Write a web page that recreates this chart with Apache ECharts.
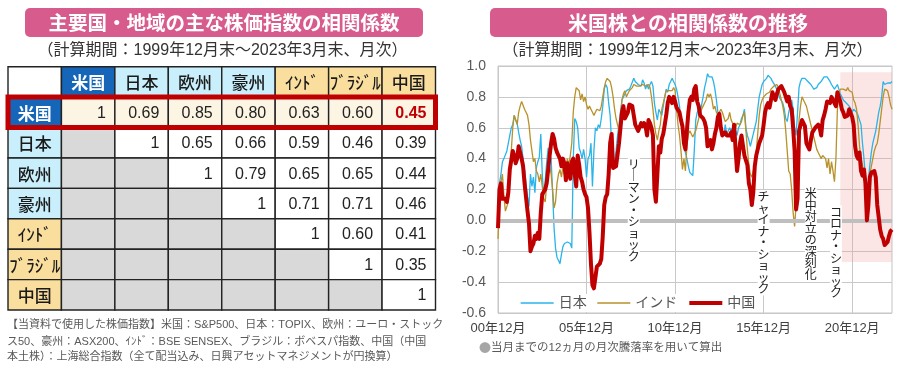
<!DOCTYPE html>
<html><head><meta charset="utf-8">
<script src="https://cdn.jsdelivr.net/npm/echarts@6/dist/echarts.min.js"></script>
<style>html,body{margin:0;padding:0;background:#fff}#c{width:900px;height:370px}</style>
</head><body><div id="c"></div>
<script>
// ---------- Table data ----------
const regions = ['米国','日本','欧州','豪州','ｲﾝﾄﾞ','ﾌﾞﾗｼﾞﾙ','中国'];
const regionGroup = ['us','dev','dev','dev','em','em','em'];
const corrMatrix = [
  [1, 0.69, 0.85, 0.80, 0.63, 0.60, 0.45],
  [null, 1, 0.65, 0.66, 0.59, 0.46, 0.39],
  [null, null, 1, 0.79, 0.65, 0.65, 0.44],
  [null, null, null, 1, 0.71, 0.71, 0.46],
  [null, null, null, null, 1, 0.60, 0.41],
  [null, null, null, null, null, 1, 0.35],
  [null, null, null, null, null, null, 1]
];
const highlightRow = 1;   // 米国 row
const highlightCell = [1, 7]; // 米国 × 中国

// ---------- Line chart data (monthly, 2000-12 .. 2023-03) ----------
const startYear = 2000, startMonth = 12, monthCount = 268;
const japan = [
  0.10,0.24,0.30,0.38,0.40,0.39,0.45,0.50,0.55,0.60,0.62,0.68,
  0.65,0.63,0.57,0.52,0.48,0.40,0.33,0.24,0.15,0.09,0.30,0.22,
  0.28,0.18,0.34,0.38,0.41,0.56,0.30,0.16,0.26,0.38,0.47,0.43,
  0.40,0.18,-0.05,-0.18,-0.24,-0.26,-0.28,-0.22,-0.17,-0.15,-0.14,-0.14,
  -0.13,-0.15,-0.18,0.40,0.66,0.64,0.60,0.47,0.44,0.40,0.46,0.40,
  0.28,0.40,0.42,0.50,0.22,0.45,0.60,0.58,0.62,0.60,0.66,0.74,
  0.85,0.88,0.86,0.76,0.68,0.50,0.36,0.38,0.45,0.55,0.62,0.70,
  0.78,0.80,0.82,0.84,0.85,0.85,0.87,0.86,0.92,0.90,0.89,0.88,
  0.87,0.87,0.91,0.89,0.85,0.88,0.85,0.88,0.90,0.87,0.76,0.70,
  0.65,0.72,0.70,0.68,0.74,0.80,0.85,0.83,0.88,0.90,0.92,0.90,
  0.88,0.85,0.80,0.74,0.65,0.55,0.48,0.44,0.40,0.35,0.31,0.30,
  0.29,0.45,0.65,0.70,0.72,0.68,0.75,0.80,0.86,0.90,0.95,0.93,
  0.92,0.93,0.90,0.85,0.78,0.70,0.65,0.60,0.58,0.55,0.62,0.56,
  0.55,0.60,0.58,0.60,0.62,0.58,0.55,0.60,0.62,0.66,0.68,0.72,
  0.60,0.55,0.52,0.48,0.52,0.56,0.60,0.64,0.72,0.80,0.84,0.88,
  0.90,0.91,0.92,0.94,0.93,0.92,0.90,0.89,0.87,0.86,0.82,0.79,
  0.78,0.76,0.72,0.66,0.64,0.70,0.74,0.78,0.72,0.60,0.55,0.70,
  0.86,0.90,0.92,0.93,0.92,0.91,0.90,0.89,0.88,0.87,0.85,0.85,
  0.86,0.88,0.89,0.90,0.91,0.93,0.94,0.93,0.93,0.90,0.88,0.87,
  0.85,0.86,0.88,0.85,0.82,0.80,0.78,0.77,0.76,0.75,0.74,0.72,
  0.70,0.72,0.71,0.70,0.68,0.68,0.62,0.50,0.40,0.28,0.18,0.26,
  0.36,0.44,0.50,0.54,0.58,0.64,0.70,0.74,0.80,0.90,0.88,0.88,
  0.89,0.90,0.89,0.90
];
const india = [
  -0.12,0.10,0.25,0.30,0.16,0.06,0.05,0.12,0.30,0.45,0.60,0.68,
  0.65,0.62,0.70,0.74,0.77,0.76,0.72,0.70,0.68,0.62,0.52,0.45,
  0.38,0.40,0.32,0.30,0.25,0.30,0.22,0.14,0.12,0.24,0.30,0.35,
  0.30,0.20,0.08,0.12,0.24,0.30,0.33,0.28,0.35,0.30,0.35,0.40,
  0.36,0.42,0.50,0.70,0.80,0.86,0.86,0.84,0.78,0.82,0.77,0.80,
  0.75,0.72,0.74,0.72,0.70,0.68,0.70,0.72,0.73,0.71,0.74,0.80,
  0.86,0.90,0.92,0.93,0.90,0.86,0.80,0.72,0.66,0.62,0.58,0.65,
  0.78,0.82,0.84,0.80,0.82,0.84,0.85,0.86,0.88,0.88,0.87,0.88,
  0.87,0.88,0.88,0.87,0.87,0.88,0.88,0.86,0.80,0.72,0.62,0.56,
  0.52,0.58,0.62,0.72,0.76,0.80,0.84,0.85,0.84,0.85,0.84,0.86,
  0.84,0.72,0.62,0.55,0.45,0.33,0.40,0.32,0.48,0.56,0.58,0.56,
  0.54,0.55,0.58,0.62,0.66,0.70,0.72,0.74,0.76,0.78,0.82,0.80,
  0.82,0.78,0.72,0.74,0.70,0.68,0.70,0.72,0.70,0.67,0.64,0.63,
  0.66,0.70,0.65,0.63,0.62,0.60,0.63,0.62,0.62,0.64,0.68,0.70,
  0.58,0.46,0.36,0.30,0.28,0.32,0.38,0.44,0.56,0.68,0.75,0.78,
  0.80,0.81,0.82,0.82,0.83,0.85,0.85,0.87,0.88,0.88,0.86,0.82,
  0.78,0.74,0.68,0.58,0.45,0.32,0.30,0.20,0.05,-0.04,0.10,0.40,
  0.65,0.74,0.80,0.78,0.76,0.74,0.70,0.66,0.62,0.58,0.54,0.50,
  0.46,0.44,0.42,0.40,0.42,0.41,0.40,0.34,0.40,0.30,0.38,0.32,
  0.25,0.40,0.72,0.82,0.85,0.86,0.85,0.84,0.84,0.86,0.84,0.83,
  0.83,0.78,0.76,0.72,0.62,0.48,0.40,0.36,0.30,0.23,0.18,0.22,
  0.30,0.35,0.40,0.45,0.48,0.50,0.56,0.64,0.72,0.80,0.85,0.86,
  0.84,0.80,0.75,0.72
];
const china = [
  -0.05,0.20,0.24,0.14,0.13,0.14,0.12,0.18,0.33,0.33,0.45,0.42,
  0.37,0.40,0.48,0.44,0.40,0.35,0.24,0.15,0.06,-0.02,-0.20,-0.17,
  -0.15,-0.10,-0.12,-0.08,-0.12,0.05,0.17,0.18,0.20,0.24,0.33,0.42,
  0.50,0.56,0.53,0.47,0.44,0.42,0.40,0.35,0.40,0.37,0.26,0.37,
  0.31,0.27,0.38,0.40,0.30,0.22,0.42,0.36,0.28,0.25,0.20,0.17,
  0.15,0.08,-0.08,-0.28,-0.42,-0.44,-0.43,-0.30,-0.31,-0.28,-0.25,-0.10,
  0.10,0.15,0.17,0.30,0.50,0.56,0.34,0.33,0.35,0.36,0.50,0.60,
  0.70,0.74,0.66,0.67,0.70,0.75,0.76,0.74,0.68,0.62,0.63,0.58,
  0.57,0.63,0.61,0.63,0.61,0.55,0.65,0.63,0.60,0.55,0.20,0.12,
  0.30,0.48,0.44,0.53,0.56,0.57,0.68,0.76,0.80,0.80,0.76,0.80,
  0.77,0.73,0.72,0.70,0.65,0.61,0.50,0.46,0.58,0.70,0.78,0.80,
  0.78,0.85,0.87,0.77,0.74,0.68,0.69,0.66,0.64,0.60,0.48,0.50,
  0.52,0.46,0.50,0.56,0.60,0.67,0.69,0.60,0.55,0.55,0.57,0.55,
  0.55,0.55,0.57,0.52,0.62,0.46,0.32,0.40,0.50,0.55,0.54,0.42,
  0.42,0.36,0.24,0.20,0.10,0.18,0.35,0.42,0.46,0.50,0.50,0.55,
  0.62,0.70,0.74,0.76,0.73,0.78,0.83,0.80,0.78,0.82,0.85,0.86,
  0.87,0.85,0.83,0.83,0.77,0.80,0.74,0.72,0.60,0.45,0.07,0.14,
  0.58,0.57,0.65,0.63,0.61,0.50,0.48,0.46,0.52,0.57,0.57,0.60,
  0.61,0.62,0.60,0.55,0.65,0.68,0.72,0.77,0.78,0.76,0.80,0.78,
  0.76,0.74,0.83,0.80,0.77,0.72,0.70,0.67,0.66,0.68,0.72,0.72,
  0.67,0.62,0.48,0.42,0.40,0.44,0.32,0.29,0.33,0.24,0.00,0.10,
  0.28,0.31,0.30,0.32,0.28,0.10,0.02,-0.06,-0.10,-0.12,-0.16,-0.17,
  -0.14,-0.10,-0.07,-0.06
];
const seriesNames = ['日本','インド','中国'];
const yMin = -0.6, yMax = 1.0, yStep = 0.2;
const labelEvery = 60; // one x label per 5 years (each December)
// event annotations: [text, month index, value at top of text]
const events = [
  ['リーマン・ショック', 92, 0.41],
  ['チャイナ・ショック', 180, 0.20],
  ['米中対立の深刻化', 212, 0.22],
  ['コロナ・ショック', 229, 0.10]
];
const covidRange = [232, 267, 0.96, -0.27];

// month category labels
const months = [];
for (let i = 0; i < monthCount; i++) {
  const t = startYear * 12 + (startMonth - 1) + i;
  const y = Math.floor(t / 12), m = t % 12 + 1;
  months.push(String(y % 100).padStart(2, '0') + '年' + m + '月');
}

const FONT = "'Liberation Sans','Noto Sans CJK JP',sans-serif";
const JP = "'Noto Sans CJK JP',sans-serif";
const groupFill = { us: '#1565B8', dev: '#C8EFFB', em: '#F9DE9E' };
const lineColors = { '日本': '#29B4EA', 'インド': '#B8912A', '中国': '#C00000' };
const lineWidths = { '日本': 1.3, 'インド': 1.3, '中国': 4 };

const cellData = [];
for (let r = 0; r < 8; r++) for (let c = 0; c < 8; c++) cellData.push([c, r]);
const tableCols = [''].concat(regions);

function renderCell(params, api) {
  const c = api.value(0), r = api.value(1);
  const ctr = api.coord([c, r]);
  const sz = api.size([1, 1]);
  const x = ctr[0] - sz[0] / 2, y = ctr[1] - sz[1] / 2;
  let fill = '#fff', text = '', color = '#222', weight = 'normal', header = false, fam = FONT, fs = 16;
  if (r === 0 && c === 0) { fill = '#fff'; }
  else if (r === 0 || c === 0) {
    const idx = (r === 0 ? c : r) - 1;
    const g = regionGroup[idx];
    fill = groupFill[g]; text = regions[idx]; header = true; fam = JP; fs = 17;
    if (g === 'us') { color = '#fff'; weight = 'bold'; } else { color = '#1a1a1a'; weight = 500; }
  } else {
    const v = corrMatrix[r - 1][c - 1];
    if (v === null) fill = '#D9D9D9';
    else {
      fill = (r === highlightRow) ? '#FDF5E4' : '#fff';
      text = v === 1 ? '1' : v.toFixed(2);
      if (r === highlightCell[0] && c === highlightCell[1]) { color = '#C00000'; weight = 'bold'; }
    }
  }
  return {
    type: 'group',
    children: [
      { type: 'rect', shape: { x: x, y: y, width: sz[0], height: sz[1] }, style: { fill: fill, stroke: '#222', lineWidth: 1.4 } },
      { type: 'text', style: { text: text, x: header ? ctr[0] : x + sz[0] - 9, y: ctr[1] + 1, align: header ? 'center' : 'right', verticalAlign: 'middle', fill: color, fontSize: fs, fontWeight: weight, fontFamily: fam } }
    ]
  };
}
function renderHighlight(params, api) {
  const r = api.value(0);
  const sz = api.size([1, 1]);
  const a = api.coord([0, r]), b = api.coord([7, r]);
  return { type: 'rect', shape: { x: a[0] - sz[0] / 2, y: a[1] - sz[1] / 2, width: b[0] - a[0] + sz[0], height: sz[1] },
    style: { fill: 'none', stroke: '#C00000', lineWidth: 5 } };
}

const chart = echarts.init(document.getElementById('c'), null, { renderer: 'canvas' });
const option = {
  animation: false,
  backgroundColor: '#fff',
  textStyle: { fontFamily: FONT },
  grid: [
    { left: 8, top: 66.7, width: 427.5, height: 243.3 },
    { left: 498, right: 8, top: 66, bottom: 57, show: true, borderColor: '#C4C4C4', borderWidth: 1 }
  ],
  xAxis: [
    { gridIndex: 0, type: 'category', data: tableCols, show: false },
    { gridIndex: 1, type: 'category', data: months, boundaryGap: false,
      axisLine: { lineStyle: { color: '#BFBFBF' } }, axisTick: { show: false },
      axisLabel: { interval: (i) => i % labelEvery === 0, color: '#404040', fontSize: 13, margin: 9, fontFamily: FONT },
      splitLine: { show: true, interval: (i) => i % labelEvery === 0, lineStyle: { color: '#C8C8C8', width: 1 } } }
  ],
  yAxis: [
    { gridIndex: 0, type: 'category', data: [''].concat(regions), inverse: true, show: false },
    { gridIndex: 1, type: 'value', min: yMin, max: yMax, interval: yStep,
      axisLine: { show: false }, axisTick: { show: false },
      axisLabel: { formatter: (v) => v.toFixed(1), color: '#595959', fontSize: 14, margin: 12, fontFamily: FONT },
      splitLine: { lineStyle: { color: '#C8C8C8', width: 1 } } }
  ],
  legend: {
    data: seriesNames.map(n => ({ name: n, lineStyle: { width: lineWidths[n], color: lineColors[n] } })),
    left: 515, top: 294, itemWidth: 33, itemHeight: 14, itemGap: 10,
    backgroundColor: '#fff', padding: [2, 5], selectedMode: false,
    itemStyle: { opacity: 0, borderWidth: 0 },
    textStyle: { color: '#555', fontSize: 14, fontFamily: FONT }
  },
  graphic: [
    { type: 'rect', left: 25, top: 8, shape: { width: 398, height: 29, r: 5 }, style: { fill: '#D75C8D' }, silent: true },
    { type: 'text', x: 224, y: 23, style: { text: '主要国・地域の主な株価指数の相関係数', align: 'center', verticalAlign: 'middle', fill: '#fff', fontSize: 19.5, fontWeight: 'bold', fontFamily: JP }, silent: true },
    { type: 'rect', left: 490, top: 8, shape: { width: 397, height: 29, r: 5 }, style: { fill: '#D75C8D' }, silent: true },
    { type: 'text', x: 688, y: 23, style: { text: '米国株との相関係数の推移', align: 'center', verticalAlign: 'middle', fill: '#fff', fontSize: 20, fontWeight: 'bold', fontFamily: JP }, silent: true },
    { type: 'text', x: 222.5, y: 51, style: { text: '（計算期間：1999年12月末～2023年3月末、月次）', align: 'center', verticalAlign: 'middle', fill: '#333', fontSize: 16, fontFamily: FONT }, silent: true },
    { type: 'text', x: 687.5, y: 51, style: { text: '（計算期間：1999年12月末～2023年3月末、月次）', align: 'center', verticalAlign: 'middle', fill: '#333', fontSize: 16, fontFamily: FONT }, silent: true },
    { type: 'text', x: 7, y: 325, style: { text: '【当資料で使用した株価指数】米国：S&P500、日本：TOPIX、欧州：ユーロ・ストック', verticalAlign: 'middle', fill: '#595959', fontSize: 11, fontFamily: FONT }, silent: true },
    { type: 'text', x: 7, y: 341.5, style: { text: 'ス50、豪州：ASX200、ｲﾝﾄﾞ：BSE SENSEX、ブラジル：ボベスパ指数、中国（中国', verticalAlign: 'middle', fill: '#595959', fontSize: 11, fontFamily: FONT }, silent: true },
    { type: 'text', x: 7, y: 357, style: { text: '本土株）：上海総合指数（全て配当込み、日興アセットマネジメントが円換算）', verticalAlign: 'middle', fill: '#595959', fontSize: 11, fontFamily: FONT }, silent: true },
    { type: 'text', x: 479, y: 348, style: { text: '{a|●}{b|当月までの12ヵ月の月次騰落率を用いて算出}', verticalAlign: 'middle',
      rich: { a: { fill: '#A6A6A6', fontSize: 12, fontFamily: JP }, b: { fill: '#595959', fontSize: 11.5, fontFamily: FONT } } }, silent: true }
  ],
  series: [
    { type: 'custom', name: 'table', xAxisIndex: 0, yAxisIndex: 0, data: cellData, renderItem: renderCell, silent: true, z: 2 },
    { type: 'custom', name: 'hl', xAxisIndex: 0, yAxisIndex: 0, data: [[highlightRow]], renderItem: renderHighlight, silent: true, z: 3,
      encode: { x: -1, y: 0 } },
    { type: 'line', name: '_bg', xAxisIndex: 1, yAxisIndex: 1, data: [], z: 1, silent: true,
      markLine: { silent: true, symbol: 'none', label: { show: false }, lineStyle: { color: '#BFBFBF', width: 4, type: 'solid' }, data: [{ yAxis: 0 }] },
      markArea: { silent: true, itemStyle: { color: 'rgba(245,150,150,0.25)', borderRadius: 8 },
        data: [[{ xAxis: months[covidRange[0]], yAxis: covidRange[2] }, { xAxis: months[covidRange[1]], yAxis: covidRange[3] }]] },
      markPoint: { silent: true, symbol: 'rect', symbolSize: 1, itemStyle: { color: 'rgba(0,0,0,0)' },
        label: { show: true, position: 'bottom', distance: 0, color: '#222', fontSize: 12, lineHeight: 11.5, fontFamily: JP,
          backgroundColor: '#fff', padding: [1, 0], formatter: (p) => p.name },
        data: events.map(e => ({ name: Array.from(e[0]).map(ch => ch === 'ー' ? '｜' : ch).join('\n'), coord: [months[e[1]], e[2]] })) } },
    { type: 'line', name: '日本', xAxisIndex: 1, yAxisIndex: 1, data: japan, symbol: 'none', z: 3,
      lineStyle: { color: lineColors['日本'], width: lineWidths['日本'] }, itemStyle: { color: lineColors['日本'] } },
    { type: 'line', name: 'インド', xAxisIndex: 1, yAxisIndex: 1, data: india, symbol: 'none', z: 4,
      lineStyle: { color: lineColors['インド'], width: lineWidths['インド'] }, itemStyle: { color: lineColors['インド'] } },
    { type: 'line', name: '中国', xAxisIndex: 1, yAxisIndex: 1, data: china, symbol: 'none', z: 5,
      lineStyle: { color: lineColors['中国'], width: lineWidths['中国'], join: 'round' }, itemStyle: { color: lineColors['中国'] } }
  ]
};
chart.setOption(option);
</script>
</body></html>
